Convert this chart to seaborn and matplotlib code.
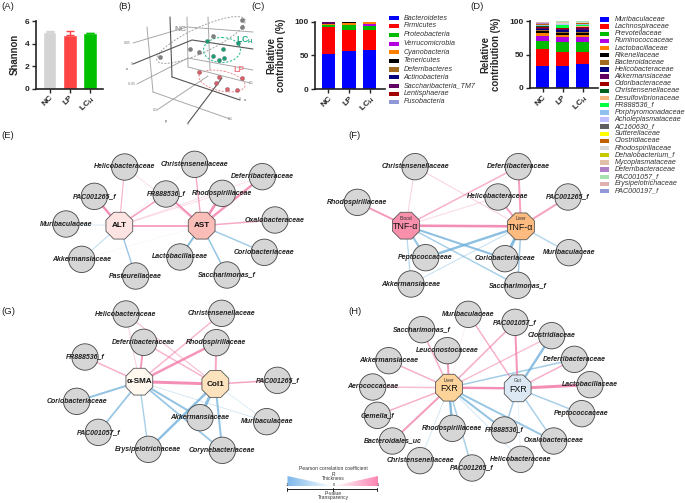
import numpy as np
import pandas as pd
import seaborn as sns
import matplotlib
matplotlib.use('Agg')
import matplotlib.pyplot as plt
from matplotlib.patches import Circle, Ellipse, Polygon, RegularPolygon

W, H = 685, 503
PINK = '#F27BA8'
BLUE = '#6FB0DA'
PX = 0.72  # edge widths below are read in pixels, matplotlib wants points

groups = ['NC', 'LP', 'LC$_{H}$']

# (A) Shannon
shannon = [5.0, 4.8, 4.9]
shannon_err = [0.1, 0.3, 0.07]
shannon_colors = ['#D4D4D4', '#FF4444', '#00C000']

# (C) phylum level
phyla = ['Bacteroidetes', 'Firmicutes', 'Proteobacteria', 'Verrucomicrobia', 'Cyanobacteria', 'Tenericutes',
         'Deferribacteres', 'Actinobacteria', 'Saccharibacteria_TM7', 'Lentisphaerae', 'Fusobacteria']
phyla_nc = [52, 40, 3.5, 0.1, 0.3, 0.2, 0.2, 0.2, 2.4, 0.7, 0.3]
phyla_lp = [56, 32, 6.5, 0.2, 3.5, 1.3, 0.2, 0.1, 0.1, 0.05, 0.05]
phyla_lch = [58, 30, 6, 2.5, 3.3, 0.1, 0.05, 0.02, 0.02, 0.01, 0.0]
phyla_colors = ['#0000FF', '#FF0000', '#00BB00', '#B000E0', '#FF8000', '#000000',
                '#A06A20', '#000080', '#600060', '#A00000', '#9098D8']

# (D) family level
families = ['Muribaculaceae', 'Lachnospiraceae', 'Prevotellaceae', 'Ruminococcaceae', 'Lactobacillaceae',
            'Rikenellaceae', 'Bacteroidaceae', 'Helicobacteraceae', 'Akkermansiaceae', 'Odoribacteraceae',
            'Christensenellaceae', 'Desulfovibrionaceae', 'FR888536_f', 'Porphyromonadaceae',
            'Acholeplasmataceae', 'AC160630_f', 'Sutterellaceae', 'Clostridiaceae', 'Rhodospirillaceae',
            'Dehalobacterium_f', 'Mycoplasmataceae', 'Deferribacteraceae', 'PAC001057_f',
            'Erysipelotrichaceae', 'PAC000197_f']
family_nc = [33, 25.5, 12, 6.5, 5, 3, 2, 1.5, 1.5, 1.5, 1, 0.5, 0.2, 0.3, 0.3, 0.6, 0.1, 0.3, 0.4, 0.1, 0.6, 0.4,
             1.2, 0.5, 0.5]
family_lp = [33, 20, 15, 8.5, 3, 2, 2.5, 3, 1.5, 0.5, 0.5, 0.5, 4, 0.5, 0.5, 0.2, 0.2, 0.1, 2, 0.1, 1.3, 0.2, 0.2,
             0.2, 0.1]
family_lch = [36.5, 17.5, 14, 7.5, 4, 2.5, 2, 2, 4, 0.5, 1, 0.5, 2.5, 0.5, 0.5, 0.5, 0.2, 0.2, 1.5, 0.2, 0.5, 0.5,
              0.8, 0.3, 0.2]
family_colors = ['#0000FF', '#FF0000', '#00BB00', '#B000E0', '#FF8000', '#000000', '#A06A20', '#000080', '#600060',
                 '#A00000', '#006020', '#F4B880', '#00FF40', '#90C0F0', '#C0C0FF', '#606060', '#FFFF00', '#C06000',
                 '#D8D8D8', '#C8C800', '#E0C0A8', '#B080C8', '#A8E0B0', '#E0B0B0', '#9098D8']


sns.set_theme(style='ticks')
plt.rcParams['font.family'] = ['Liberation Sans', 'DejaVu Sans']
plt.rcParams['mathtext.default'] = 'regular'

fig = plt.figure(figsize=(W / 100, H / 100), dpi=100, facecolor='white')


def px_axes(x0, y0, x1, y1):
    return fig.add_axes([x0 / W, 1 - y1 / H, (x1 - x0) / W, (y1 - y0) / H], facecolor='none')


def style_bar_axes(ax, ylabel, yticks, xlim, ylim, label_x):
    ax.set_xlim(*xlim)
    ax.set_ylim(*ylim)
    ax.set_yticks(yticks)
    ax.set_xticks([0, 1, 2])
    ax.set_xticklabels(groups, rotation=45, ha='right', rotation_mode='anchor', fontsize=6, fontweight='bold')
    ax.tick_params(axis='y', labelsize=6, width=1, length=3, pad=1.5)
    ax.tick_params(axis='x', width=1, length=3, pad=1)
    for t in ax.get_yticklabels():
        t.set_fontweight('bold')
    ax.set_xlabel('')
    ax.set_ylabel(ylabel, fontsize=6.9, fontweight='bold', linespacing=1.05)
    ax.yaxis.set_label_coords(label_x, 0.5)
    sns.despine(ax=ax)
    for s in ('left', 'bottom'):
        ax.spines[s].set_linewidth(1.2)
        ax.spines[s].set_color('#222222')


def stacked(ax, taxa, rows, colors):
    recs = []
    for g, vals in zip(groups, rows):
        for t, v in zip(taxa, vals):
            recs.append({'group': g, 'taxon': t, 'pct': v})
    df = pd.DataFrame(recs)
    # first hue level ends up on top of the stack, so reverse
    sns.histplot(data=df, x='group', hue='taxon', weights='pct', multiple='stack', discrete=True, shrink=0.67,
                 hue_order=taxa[::-1], palette=dict(zip(taxa, colors)), alpha=1, linewidth=0, legend=False, ax=ax)


# ---- bars ----
ax_a = px_axes(36, 21, 103, 88.7)
sns.barplot(x=groups, y=shannon, hue=groups, palette=shannon_colors, order=groups, hue_order=groups, width=0.67,
            saturation=1, legend=False, errorbar=None, ax=ax_a)
for i, (v, e, c) in enumerate(zip(shannon, shannon_err, shannon_colors)):
    ax_a.errorbar(i, v, yerr=[[0], [e]], color=c, capsize=3.2, lw=1, capthick=1)
style_bar_axes(ax_a, 'Shannon', [0, 2, 4, 6], (-0.667, 2.64), (0, 6), -0.24)

ax_c = px_axes(315, 21.7, 385, 89)
stacked(ax_c, phyla, [phyla_nc, phyla_lp, phyla_lch], phyla_colors)
style_bar_axes(ax_c, 'Relative\ncontribution (%)', [0, 50, 100], (-0.655, 2.75), (0, 100), -0.41)

ax_d = px_axes(530, 21, 598, 88)
stacked(ax_d, families, [family_nc, family_lp, family_lch], family_colors)
style_bar_axes(ax_d, 'Relative\ncontribution (%)', [0, 50, 100], (-0.625, 2.775), (0, 100), -0.43)

# ---- everything else is laid out in picture pixels ----
ov = fig.add_axes([0, 0, 1, 1], facecolor='none')
ov.set_xlim(0, W)
ov.set_ylim(H, 0)
ov.axis('off')

for label, x, y in [('(A)', 1, 6), ('(B)', 118, 6), ('(C)', 251, 6), ('(D)', 470, 6), ('(E)', 1, 135), ('(F)', 348, 135),
                    ('(G)', 1, 311), ('(H)', 348, 312)]:
    ov.text(x, y, label, fontsize=6.8, va='center', color='#222222')

# legends of C and D
for i, (name, c) in enumerate(zip(phyla, phyla_colors)):
    y = [18, 25.7, 34.7, 43.7, 52, 60.7, 69.3, 77, 85.7, 93.7, 101.7][i]
    ov.add_patch(plt.Rectangle((389.5, y - 2.2), 9.3, 4.4, color=c, lw=0))
    ov.text(403.5, y, name, fontsize=5.1, style='italic', va='center', color='#333333')
for i, (name, c) in enumerate(zip(families, family_colors)):
    y = 19.4 + i * 7.15
    ov.add_patch(plt.Rectangle((600, y - 2.2), 9.3, 4.4, color=c, lw=0))
    ov.text(614.7, y, name, fontsize=5.1, style='italic', va='center', color='#333333')

# ---- (B) PCoA cube, read in screen position ----
cube_grey = [[(133, 43), (187, 27), (253, 32)], [(137, 84), (188, 58), (253, 70)], [(147, 27), (153, 92)],
             [(187, 17), (188, 67)], [(208, 17), (210, 70)], [(153, 92), (230, 119)], [(188, 67), (250, 83)],
             [(157, 110), (208, 76)]]
cube_dark = [[(133, 64), (192, 40), (253, 49)], [(170, 17), (172, 77)], [(172, 77), (240, 100)],
             [(188, 123), (222, 78)]]
for pts in cube_grey:
    ov.plot(*zip(*pts), color='#A8A8A8', lw=0.7, solid_capstyle='round')
for pts in cube_dark:
    ov.plot(*zip(*pts), color='#555555', lw=0.8, solid_capstyle='round')
for x, y, t in [(127, 43, '0.05'), (132, 64, '0'), (132, 84, '-0.05'), (155, 110, '0.1'), (188, 124, '0'),
                (230, 119, '0.1'), (240, 99, '0'), (251, 83, '0.1')]:
    ov.text(x, y, t, fontsize=2.5, color='#777777', ha='center', va='center')
for x, y, t in [(127, 69, 'x'), (166, 121, 'y'), (245, 100, 'x')]:
    ov.text(x, y, t, fontsize=3, color='#333333', ha='center', va='center')

nc_pts = [(160, 57), (190, 49), (199, 52), (213, 36), (242, 27), (242, 20)]
lc_pts = [(207, 41), (238, 43), (223, 49), (213, 56), (219, 60), (224, 58)]
lp_pts = [(199, 72), (219, 77), (242, 78), (216, 83), (227, 89), (237, 90)]
for pts, c in [(nc_pts, '#808080'), (lc_pts, '#1B9E77'), (lp_pts, '#D9606A')]:
    ov.scatter(*zip(*pts), s=9, color=c, edgecolor='#555555', linewidth=0.2, zorder=4)
ov.add_patch(Ellipse((201, 40), 97, 25, angle=-25, fill=False, ec='#A0A0A0', ls=(0, (2, 1.5)), lw=0.7))
ov.add_patch(Ellipse((222, 50), 37, 25, fill=False, ec='#35C09A', ls=(0, (2, 1.5)), lw=0.8))
ov.add_patch(Ellipse((222, 81), 47, 20, angle=12, fill=False, ec='#EE8A90', ls=(0, (2, 1.5)), lw=0.7))
ov.text(181, 29, 'NC', fontsize=6, color='#A0A0A0', fontweight='bold', ha='center', va='center')
ov.text(245, 40, 'LC$_{H}$', fontsize=6.2, color='#20A884', fontweight='bold', ha='center', va='center')
ov.text(239, 69, 'LP', fontsize=6.2, color='#EE7F86', fontweight='bold', ha='center', va='center')


# ---- (E-H) networks ----
def draw_network(hubs, leaves, edges):
    pos = {k: (v[0], v[1]) for k, v in hubs.items()}
    pos.update(leaves)
    for a, b, w, al in edges:
        (x0, y0), (x1, y1) = pos[a], pos[b]
        ov.plot([x0, x1], [y0, y1], color=PINK if w > 0 else BLUE, lw=abs(w) * PX, alpha=al, zorder=2,
                solid_capstyle='butt')
    for name, (x, y) in leaves.items():
        ov.add_patch(Circle((x, y), 13.2, fc='#D6D6D6', ec='#444444', lw=0.6, zorder=3))
        ov.text(x, y, name, fontsize=5, style='italic', fontweight='bold', ha='center', va='center',
                color='#222222', zorder=6)
    for name, (x, y, c, text, sup) in hubs.items():
        ov.add_patch(RegularPolygon((x, y), 8, radius=14.5, orientation=np.pi / 8, fc=c, ec='#555555', lw=0.6, zorder=4))
        if sup:
            ov.text(x, y - 7.5, sup, fontsize=3.5, ha='center', va='center', color='#333333', zorder=6)
            ov.text(x, y + 1, text, fontsize=6.4, ha='center', va='center', color='#111111', zorder=6)
        else:
            ov.text(x, y, text, fontsize=5.9, fontweight='bold', ha='center', va='center', color='#111111', zorder=6)


def e_xy(x, y):
    return (x / 3, y / 3 + 125)


def f_xy(x, y):
    return (x / 3 + 340, y / 3 + 125)


def g_xy(x, y):
    return (x / 3, y / 3 + 310)


def h_xy(x, y):
    return (x / 3 + 270, y / 3 + 305)


# E
e_hubs = {'ALT': (*e_xy(358, 302), '#FDE3E1', 'ALT', None), 'AST': (*e_xy(605, 302), '#FBBDB8', 'AST', None)}
e_leaves = {'Helicobacteraceae': e_xy(374, 126), 'Christensenellaceae': e_xy(584, 118),
            'Deferribacteraceae': e_xy(787, 155), 'FR888536_f': e_xy(498, 207), 'Rhodospirillaceae': e_xy(667, 205),
            'PAC001265_f': e_xy(283, 214), 'Muribaculaceae': e_xy(198, 297), 'Oxalobacteraceae': e_xy(825, 285),
            'Akkermansiaceae': e_xy(245, 403), 'Pasteurellaceae': e_xy(407, 453), 'Lactobacillaceae': e_xy(540, 396),
            'Coriobacteriaceae': e_xy(793, 382), 'Saccharimonas_f': e_xy(681, 450)}
e_edges = [('ALT', 'Helicobacteraceae', 1.2, 0.55), ('ALT', 'PAC001265_f', 2.4, 0.85), ('ALT', 'Muribaculaceae', -1, 0.25),
           ('ALT', 'Akkermansiaceae', -1, 0.45), ('ALT', 'Pasteurellaceae', -1.4, 0.7), ('ALT', 'FR888536_f', 1.6, 0.7),
           ('ALT', 'Rhodospirillaceae', 0.9, 0.3), ('ALT', 'Deferribacteraceae', 0.8, 0.3), ('ALT', 'AST', 1.8, 0.75),
           ('ALT', 'Christensenellaceae', 0.6, 0.15), ('AST', 'Helicobacteraceae', 0.8, 0.3),
           ('AST', 'FR888536_f', 2, 0.85), ('AST', 'Rhodospirillaceae', 2.6, 0.85), ('AST', 'Deferribacteraceae', 2.4, 0.8),
           ('AST', 'Christensenellaceae', 1.4, 0.65), ('AST', 'Oxalobacteraceae', 1.5, 0.65),
           ('AST', 'Lactobacillaceae', -2, 0.8), ('AST', 'Coriobacteriaceae', -1.5, 0.65),
           ('AST', 'Saccharimonas_f', -1.5, 0.75), ('AST', 'Akkermansiaceae', 0.5, 0.1)]
draw_network(e_hubs, e_leaves, e_edges)

# F
f_hubs = {'Blood': (*f_xy(198, 302), '#F890AC', 'TNF-α', 'Blood'), 'Liver': (*f_xy(543, 304), '#FDBB80', 'TNF-α', 'Liver')}
f_leaves = {'Christensenellaceae': f_xy(225, 125), 'Deferribacteraceae': f_xy(535, 125), 'Rhodospirillaceae': f_xy(52, 232),
            'Helicobacteraceae': f_xy(474, 216), 'PAC001265_f': f_xy(684, 216), 'Peptococcaceae': f_xy(257, 398),
            'Coriobacteriaceae': f_xy(495, 401), 'Muribaculaceae': f_xy(687, 383), 'Akkermansiaceae': f_xy(213, 477),
            'Saccharimonas_f': f_xy(533, 481)}
f_edges = [('Blood', 'Christensenellaceae', 1, 0.35), ('Blood', 'Deferribacteraceae', 1.5, 0.6),
           ('Blood', 'Rhodospirillaceae', 2, 0.75), ('Blood', 'Helicobacteraceae', 1, 0.3), ('Blood', 'Liver', 2.6, 0.85),
           ('Liver', 'Deferribacteraceae', 2, 0.7), ('Liver', 'Helicobacteraceae', 2, 0.7),
           ('Liver', 'Christensenellaceae', 1, 0.35), ('Liver', 'PAC001265_f', 2, 0.7), ('Liver', 'Peptococcaceae', -2.4, 0.8),
           ('Liver', 'Coriobacteriaceae', -3, 0.85), ('Liver', 'Muribaculaceae', -1.5, 0.5), ('Liver', 'Akkermansiaceae', -1, 0.4),
           ('Liver', 'Saccharimonas_f', -1.5, 0.65), ('Blood', 'Peptococcaceae', -2, 0.75), ('Blood', 'Coriobacteriaceae', -2, 0.8),
           ('Blood', 'Akkermansiaceae', -1.2, 0.5), ('Blood', 'Saccharimonas_f', -1.5, 0.6)]
draw_network(f_hubs, f_leaves, f_edges)

# G
g_hubs = {'SMA': (*g_xy(418, 215), '#FFF8EE', 'α-SMA', None), 'Col1': (*g_xy(646, 222), '#FDE3BD', 'Col1', None)}
g_leaves = {'Helicobacteraceae': g_xy(378, 12), 'Christensenellaceae': g_xy(665, 10), 'Deferribacteraceae': g_xy(431, 97),
            'Rhodospirillaceae': g_xy(649, 98), 'FR888536_f': g_xy(255, 141), 'PAC001265_f': g_xy(832, 211),
            'Coriobacteriaceae': g_xy(230, 274), 'Akkermansiaceae': g_xy(600, 323), 'Muribaculaceae': g_xy(800, 335),
            'PAC001057_f': g_xy(295, 367), 'Erysipelotrichaceae': g_xy(445, 418), 'Corynebacteriaceae': g_xy(667, 421)}
g_edges = [('SMA', 'Helicobacteraceae', 1, 0.35), ('SMA', 'Deferribacteraceae', 2, 0.75), ('SMA', 'Christensenellaceae', 1.5, 0.55),
           ('SMA', 'Rhodospirillaceae', 2.5, 0.8), ('SMA', 'FR888536_f', 1.5, 0.6), ('SMA', 'Col1', 3, 0.85),
           ('SMA', 'Coriobacteriaceae', -2, 0.75), ('SMA', 'PAC001057_f', -1.8, 0.7), ('SMA', 'Erysipelotrichaceae', -1.4, 0.6),
           ('SMA', 'Akkermansiaceae', -2, 0.75), ('SMA', 'Corynebacteriaceae', -1.8, 0.7), ('SMA', 'Muribaculaceae', -0.9, 0.3),
           ('Col1', 'Helicobacteraceae', 1.2, 0.45), ('Col1', 'Deferribacteraceae', 1.5, 0.55), ('Col1', 'Rhodospirillaceae', 2, 0.65),
           ('Col1', 'PAC001265_f', 1.5, 0.7), ('Col1', 'Akkermansiaceae', -3, 0.8), ('Col1', 'Erysipelotrichaceae', -2.4, 0.8),
           ('Col1', 'Corynebacteriaceae', -2, 0.75), ('Col1', 'Muribaculaceae', -0.9, 0.25)]
draw_network(g_hubs, g_leaves, g_edges)

# H
h_hubs = {'Liver': (*h_xy(537, 248), '#FDD39A', 'FXR', 'Liver'), 'Gut': (*h_xy(743, 250), '#DCE9F4', 'FXR', 'Gut')}
h_leaves = {'Muribaculaceae': h_xy(595, 28), 'PAC001057_f': h_xy(735, 52), 'Saccharimonas_f': h_xy(455, 74),
            'Clostridiaceae': h_xy(845, 92), 'Leuconostocaceae': h_xy(532, 137), 'Deferribacteraceae': h_xy(913, 163),
            'Akkermansiaceae': h_xy(356, 167), 'Aerococcaceae': h_xy(308, 246), 'Lactobacillaceae': h_xy(960, 239),
            'Gemella_f': h_xy(322, 331), 'Peptococcaceae': h_xy(935, 326), 'Rhodospirillaceae': h_xy(547, 370),
            'FR888536_f': h_xy(703, 375), 'Bacteroidales_uc': h_xy(367, 408), 'Oxalobacteraceae': h_xy(851, 408),
            'Christensenellaceae': h_xy(450, 467), 'Helicobacteraceae': h_xy(752, 463), 'PAC001265_f': h_xy(606, 489)}
h_edges = [('Liver', 'Saccharimonas_f', 1.5, 0.6), ('Liver', 'Leuconostocaceae', 2, 0.75), ('Liver', 'PAC001057_f', 1.5, 0.65),
           ('Liver', 'Clostridiaceae', 1.4, 0.5), ('Liver', 'Akkermansiaceae', 1.5, 0.6), ('Liver', 'Aerococcaceae', 1.5, 0.5),
           ('Liver', 'Gemella_f', 1.5, 0.6), ('Liver', 'Bacteroidales_uc', 2, 0.75), ('Liver', 'Gut', 2.4, 0.85),
           ('Liver', 'Muribaculaceae', 0.7, 0.15), ('Liver', 'Deferribacteraceae', -1.5, 0.65), ('Liver', 'Rhodospirillaceae', -2.4, 0.85),
           ('Liver', 'Christensenellaceae', -1, 0.3), ('Liver', 'PAC001265_f', -1.5, 0.6), ('Liver', 'FR888536_f', -2, 0.75),
           ('Liver', 'Oxalobacteraceae', -2, 0.7), ('Liver', 'Helicobacteraceae', -1, 0.3),
           ('Gut', 'Muribaculaceae', 1.5, 0.6), ('Gut', 'PAC001057_f', 2, 0.8), ('Gut', 'Clostridiaceae', -2.4, 0.8),
           ('Gut', 'Deferribacteraceae', 1.5, 0.6), ('Gut', 'Lactobacillaceae', 3, 0.85), ('Gut', 'Peptococcaceae', -1.5, 0.6),
           ('Gut', 'Oxalobacteraceae', -1.5, 0.6), ('Gut', 'FR888536_f', -1.5, 0.65), ('Gut', 'Helicobacteraceae', -0.8, 0.2)]
draw_network(h_hubs, h_leaves, h_edges)

# ---- colour key under H ----
for tri, cmap, ext in [([(287.5, 476), (333.5, 486), (287.5, 486)], ['#7DB8EA', '#FFFFFF'], (287.5, 333.5, 486, 476)),
                       ([(333.5, 486), (378, 476), (378, 486)], ['#FFFFFF', '#FB86B4'], (333.5, 378, 486, 476))]:
    grad = matplotlib.colors.LinearSegmentedColormap.from_list('g', cmap)
    im = ov.imshow(np.linspace(0, 1, 64)[None, :], cmap=grad, extent=ext, aspect='auto', zorder=2)
    im.set_clip_path(Polygon(tri, transform=ov.transData))
ov.set_xlim(0, W)
ov.set_ylim(H, 0)
ov.plot([287.5, 377.5], [489, 489], color='#222222', lw=0.7)
for x, t in [(287.5, '-1'), (333.5, '0'), (377.5, '1')]:
    ov.plot([x, x], [487.5, 490.5], color='#222222', lw=0.7)
    ov.text(x, 484.5, t, fontsize=2.8, ha='center', va='center', color='#222222', zorder=5)
for y, t in [(469, 'Pearson correlation coefficient'), (474, 'R'), (479, 'Thickness'), (493.5, 'P-value'), (498, 'Transparency')]:
    ov.text(333.5, y, t, fontsize=3.6, ha='center', va='center', color='#333333')

fig.savefig('out.png', dpi=100)
